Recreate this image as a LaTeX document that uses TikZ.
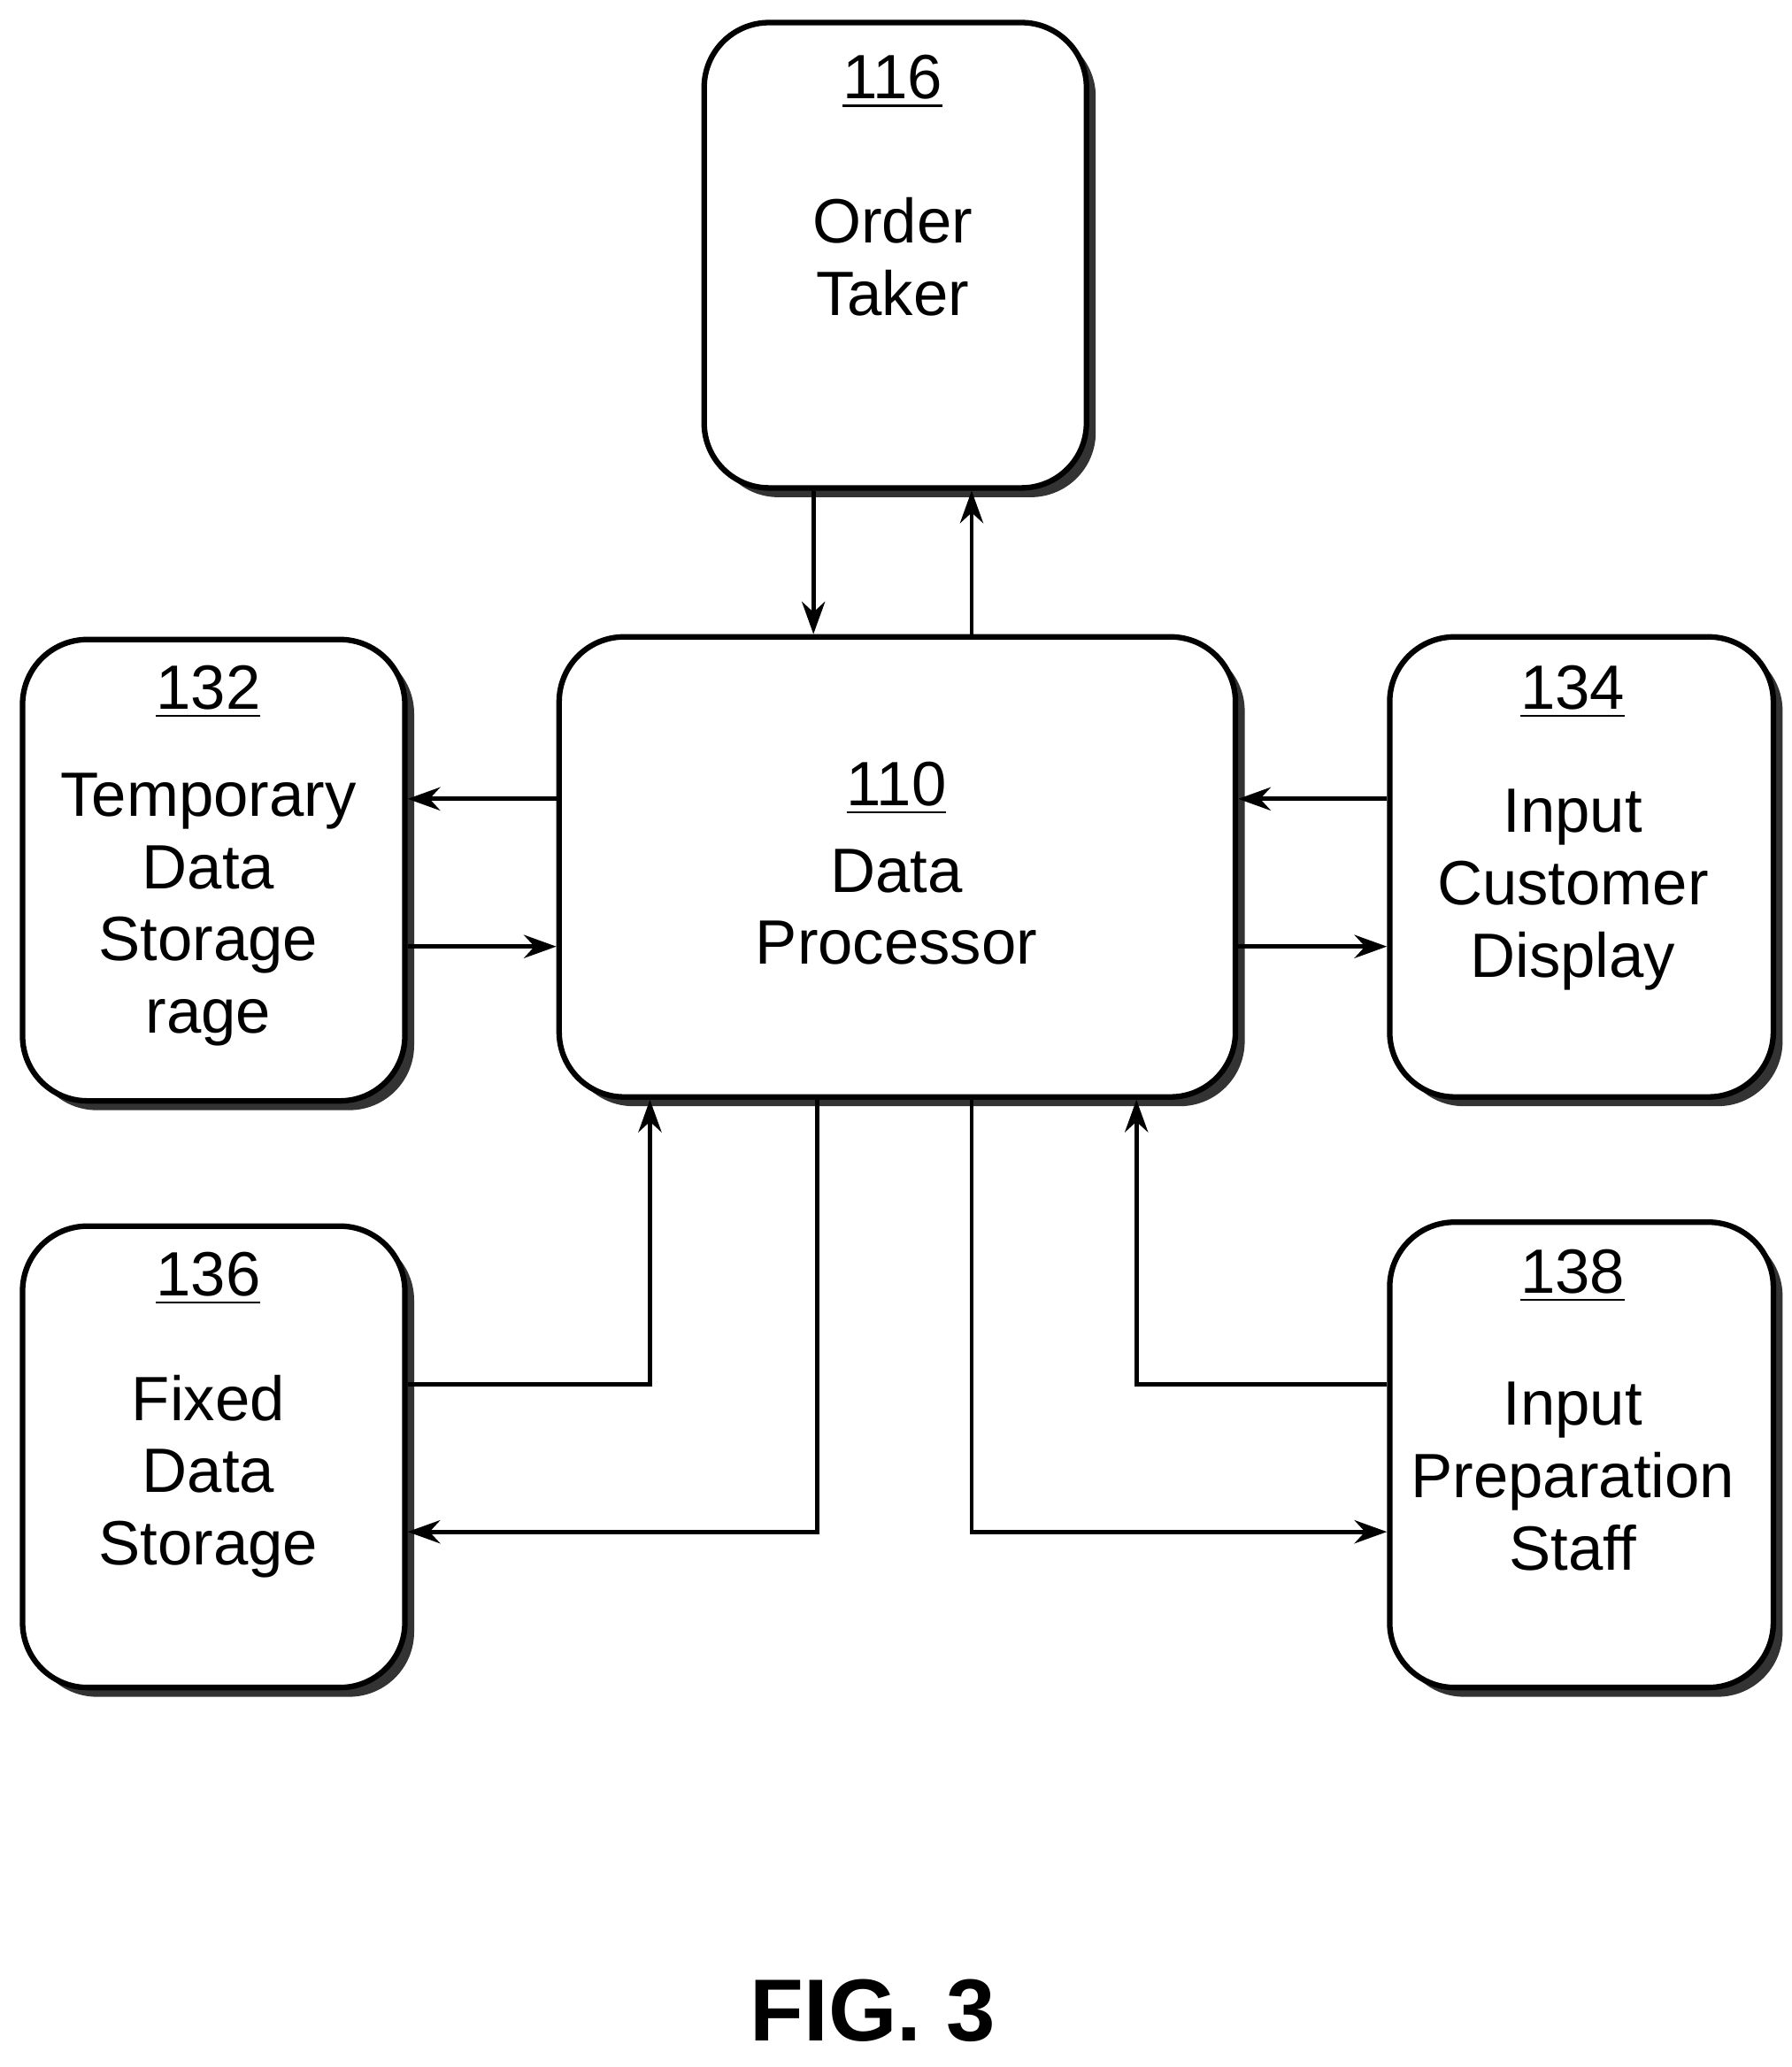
\documentclass[tikz,border=0pt]{standalone}
\usepackage{fontspec}
\setmainfont{Liberation Sans}
\usetikzlibrary{arrows.meta,shadows}
\begin{document}
\begin{tikzpicture}[x=0.01cm,y=-0.01cm,
  box/.style={draw,line width=1.2pt,rounded corners=14pt,fill=white,
    drop shadow={shadow xshift=2pt,shadow yshift=-2pt,opacity=1,fill=black!80},
    anchor=north west,inner sep=0pt},
  txt/.style={font=\fontsize{13.5}{15.6}\selectfont,align=center},
  arr/.style={-{Stealth[length=7pt,width=5pt]},line width=0.9pt}]
\useasboundingbox (0,0) rectangle (1359,1568);
\node[box,minimum width=290*0.01cm,minimum height=353*0.01cm] (ot) at (532,15) {};
\node[box,minimum width=290*0.01cm,minimum height=350*0.01cm] (tds) at (15,483) {};
\node[box,minimum width=513*0.01cm,minimum height=349*0.01cm] (dp) at (422,481) {};
\node[box,minimum width=291*0.01cm,minimum height=349*0.01cm] (icd) at (1052,481) {};
\node[box,minimum width=290*0.01cm,minimum height=350*0.01cm] (fds) at (15,928) {};
\node[box,minimum width=291*0.01cm,minimum height=353*0.01cm] (ips) at (1052,925) {};
% texts
\node[txt] (l116) at (677,62) {\underline{116}};
\node[txt] (t116) at (677,195) {Order\\Taker};
\node[txt] (l132) at (158,525) {\underline{132}};
\node[txt] (t132) at (158,690) {Temporary\\Data\\Storage\\rage};
\node[txt] (l110) at (680,598) {\underline{110}};
\node[txt] (t110) at (680,688) {Data\\Processor};
\node[txt] (l134) at (1193,525) {\underline{134}};
\node[txt] (t134) at (1193,675) {Input\\Customer\\Display};
\node[txt] (l136) at (158,970) {\underline{136}};
\node[txt] (t136) at (158,1120) {Fixed\\Data\\Storage};
\node[txt] (l138) at (1193,968) {\underline{138}};
\node[txt] (t138) at (1193,1120) {Input\\Preparation\\Staff};
\node[font=\bfseries\fontsize{19}{23}\selectfont] (fig) at (662,1525) {FIG. 3};
% arrows
\draw[arr] (ot.south west -| 617,0) -- (dp.north west -| 617,0);
\draw[arr] (dp.north west -| 737,0) -- (ot.south west -| 737,0);
\draw[arr] (dp.north west |- 0,606) -- (tds.north east |- 0,606);
\draw[arr] (tds.north east |- 0,718) -- (dp.north west |- 0,718);
\draw[arr] (icd.north west |- 0,606) -- (dp.north east |- 0,606);
\draw[arr] (dp.north east |- 0,718) -- (icd.north west |- 0,718);
\draw[arr] (fds.north east |- 0,1050) -| (dp.south west -| 493,0);
\draw[arr] (dp.south west -| 620,0) |- (fds.north east |- 0,1162);
\draw[arr] (dp.south west -| 737,0) |- (ips.north west |- 0,1162);
\draw[arr] (ips.north west |- 0,1050) -| (dp.south west -| 862,0);
\end{tikzpicture}
\end{document}
